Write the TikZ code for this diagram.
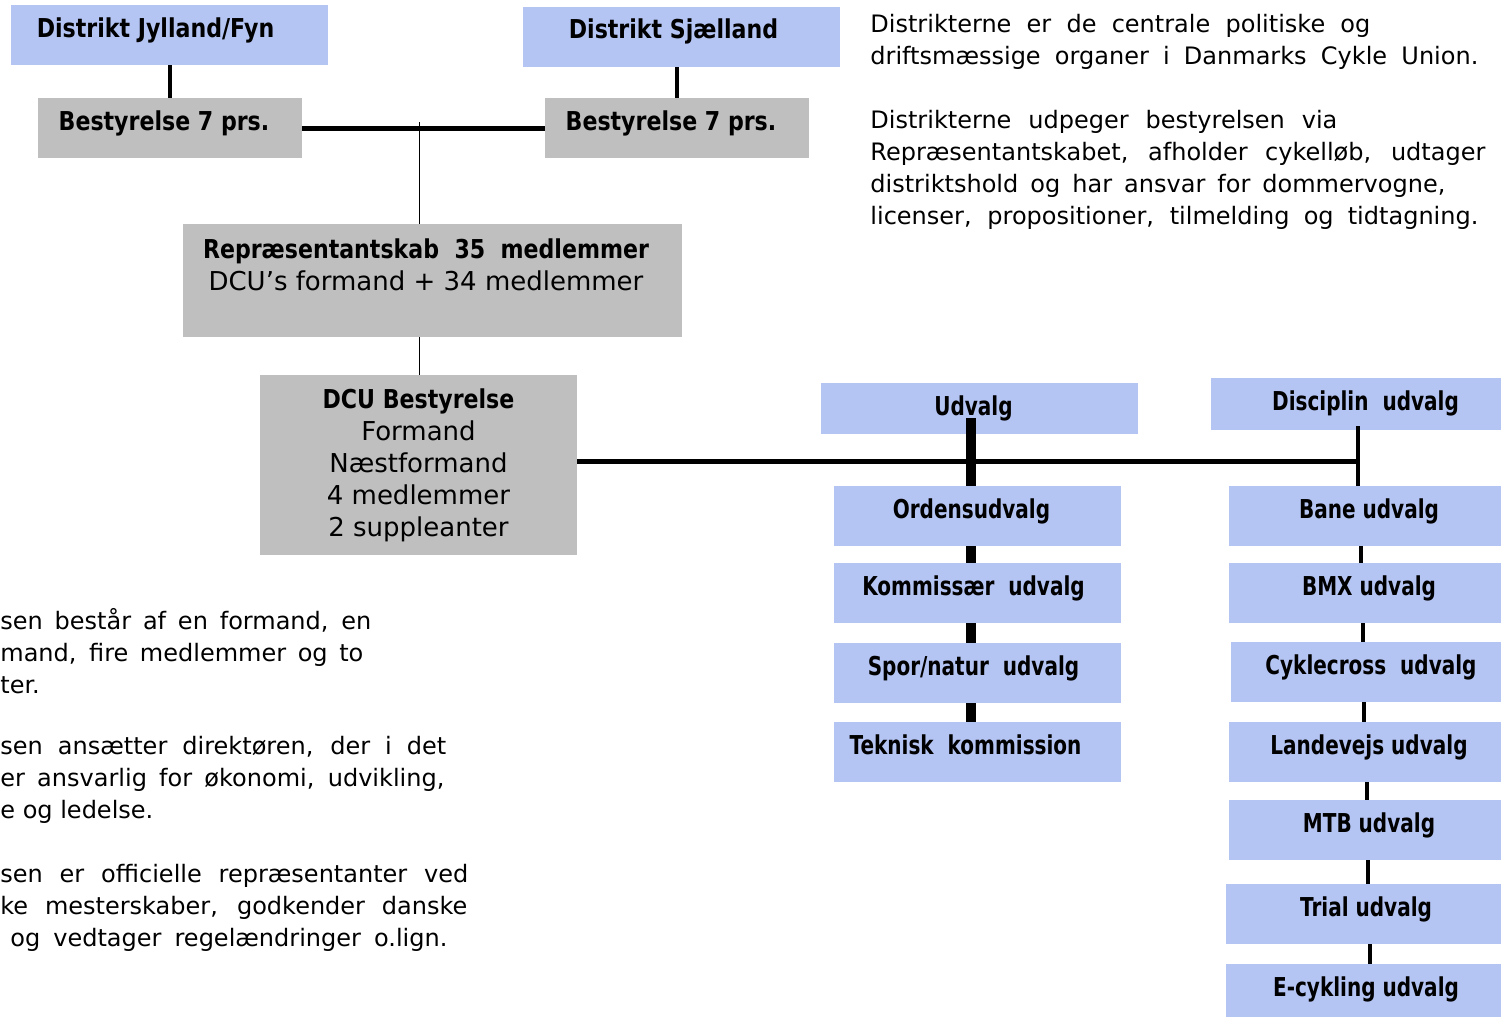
\documentclass[tikz,border=0pt]{standalone}
\usepackage{fontspec}
\setmainfont{DejaVu Sans}[BoldFeatures={FakeStretch=0.85}]
\newfontfamily\udvfont{DejaVu Sans}[BoldFeatures={FakeStretch=0.77}]
\usetikzlibrary{backgrounds}
\definecolor{udvblue}{RGB}{180,196,243}
\definecolor{bestgray}{RGB}{191,191,191}
\newcommand\jline[2]{\makebox[#1][s]{#2}}

\begin{document}
\begin{tikzpicture}[x=0.5pt,y=-0.5pt,
  every node/.style={font=\fontsize{13}{16}\selectfont, inner sep=0pt},
  tbox/.style={text height=16pt, text depth=#1, font=\fontsize{13}{16}\selectfont\bfseries},
  udvbox/.style={tbox=#1, fill=udvblue},
  udvbox/.default=14pt,
  bestbox/.style={tbox=#1, fill=bestgray},
  bestbox/.default=14pt,
  narrow/.style={font=\fontsize{13}{16}\selectfont\udvfont\bfseries},
  bodytxt/.style={anchor=north west, align=left, font=\fontsize{12}{16}\selectfont},
  fatline/.style={line width=2.5pt},
  udvline/.style={line width=5pt},
  disline/.style={line width=2.2pt}]
\useasboundingbox (0,0) rectangle (1501,1017);

% Distrikter
\node[udvbox, minimum width=158.5pt] (jyl) at (169.5,35) {Distrikt Jylland/Fyn\hspace*{14pt}};
\node[udvbox, minimum width=158.5pt] (sjl) at (681.5,37) {Distrikt Sjælland\hspace*{8pt}};
\node[bestbox, minimum width=132pt] (bestL) at (170,128) {Bestyrelse 7 prs.\hspace*{6pt}};
\node[bestbox, minimum width=132pt] (bestR) at (677,128) {Bestyrelse 7 prs.\hspace*{6pt}};
\draw[line width=2pt] (jyl.south) -- (jyl.south |- bestL.north);
\draw[line width=2pt] (bestR.north) -- (bestR.north |- sjl.south);
\draw[fatline] (bestL.east) -- (bestR.west);

% Repraesentantskab og bestyrelse
\node[fill=bestgray, minimum width=249.5pt, minimum height=56.5pt] (rep) at (432.5,280.5) {};
\node[anchor=north, align=center] (reptxt) at (426,238)
  {\textbf{Repræsentantskab\ \ 35\ \ medlemmer}\\DCU’s formand + 34 medlemmer};
\node[fill=bestgray, minimum width=158.5pt, minimum height=90pt, align=center] (dcu) at (418.5,465)
  {\textbf{DCU Bestyrelse}\\Formand\\Næstformand\\4 medlemmer\\2 suppleanter};
\coordinate (hub) at (419,122);
\begin{pgfonlayer}{background}
  \draw[line width=0.5pt] (hub) -- (hub |- dcu.south);
\end{pgfonlayer}

% Udvalg
\node[udvbox=9.5pt, narrow, minimum width=158.5pt] (udv) at (979.5,408.5) {Udvalg\hspace*{6pt}};
\node[udvbox=10pt, narrow, minimum width=154.5pt] (dis) at (1365.5,404) {Disciplin\ \ udvalg};
\node[udvbox, narrow, minimum width=143.5pt] (orden) at (977.5,516) {Ordensudvalg\hspace*{6pt}};
\node[udvbox, narrow, minimum width=143.5pt] (kom) at (977.5,593) {Kommissær\ \ udvalg\hspace*{4pt}};
\node[udvbox, narrow, minimum width=143.5pt] (spor) at (977.5,673) {Spor/natur\ \ udvalg\hspace*{4pt}};
\node[udvbox, narrow, minimum width=143.5pt] (tek) at (977.5,752) {Teknisk\ \ kommission\hspace*{12pt}};

\node[udvbox, narrow, minimum width=140pt] (bane) at (1369,516) {Bane udvalg};
\node[udvbox, narrow, minimum width=140pt] (bmx) at (1369,593) {BMX udvalg};
\node[udvbox, narrow, minimum width=140pt] (cyk) at (1371,672) {Cyklecross\ \ udvalg};
\node[udvbox, narrow, minimum width=140pt] (land) at (1369,752) {Landevejs udvalg};
\node[udvbox, narrow, minimum width=140pt] (mtb) at (1369,830) {MTB udvalg};
\node[udvbox, narrow, minimum width=140pt] (trial) at (1366,914) {Trial udvalg};
\node[udvbox, narrow, minimum width=140pt] (ecyk) at (1366,994) {E-cykling udvalg};

\coordinate (udvtop) at (971,418);
\coordinate (distop) at (1358,426);
\draw[fatline] ([yshift=2pt]dcu.east) -- ([yshift=2pt]dcu.east -| distop);
\draw[udvline] (udvtop) -- (udvtop |- orden.north);
\foreach \a/\b in {orden/kom,kom/spor,spor/tek}
  \draw[udvline] (udvtop |- \a.south) -- (udvtop |- \b.north);
\draw[disline] (distop) -- (distop |- bane.north);
\foreach \a/\b/\xx in {bane/bmx/1361,bmx/cyk/1363,cyk/land/1364,land/mtb/1367,mtb/trial/1368,trial/ecyk/1370} {
  \coordinate (lx) at (\xx,0);
  \draw[disline] (lx |- \a.south) -- (lx |- \b.north);
}

% Tekster
\node[bodytxt] (disttxt1) at (870,14)
  {\jline{250pt}{Distrikterne er de centrale politiske og}\\
   \jline{304pt}{driftsmæssige organer i Danmarks Cykle Union.}};
\node[bodytxt] (disttxt2) at (870,110)
  {\jline{233.5pt}{Distrikterne udpeger bestyrelsen via}\\
   \jline{307.5pt}{Repræsentantskabet, afholder cykelløb, udtager}\\
   \jline{287.5pt}{distriktshold og har ansvar for dommervogne,}\\
   \jline{304pt}{licenser, propositioner, tilmelding og tidtagning.}};
\node[bodytxt] (besttxt1) at (0,608)
  {\jline{185.5pt}{sen består af en formand, en}\\
   \jline{181.5pt}{mand, fire medlemmer og to}\\
   ter.};
\node[bodytxt] (besttxt2) at (0,736)
  {\jline{223pt}{sen ansætter direktøren, der i det}\\
   \jline{222pt}{er ansvarlig for økonomi, udvikling,}\\
   e og ledelse.};
\node[bodytxt] (besttxt3) at (0,864)
  {\jline{234pt}{sen er officielle repræsentanter ved}\\
   \jline{233.5pt}{ke mesterskaber, godkender danske}\\
   \hspace*{5pt}\jline{218.5pt}{og vedtager regelændringer o.lign.}};
\end{tikzpicture}
\end{document}
